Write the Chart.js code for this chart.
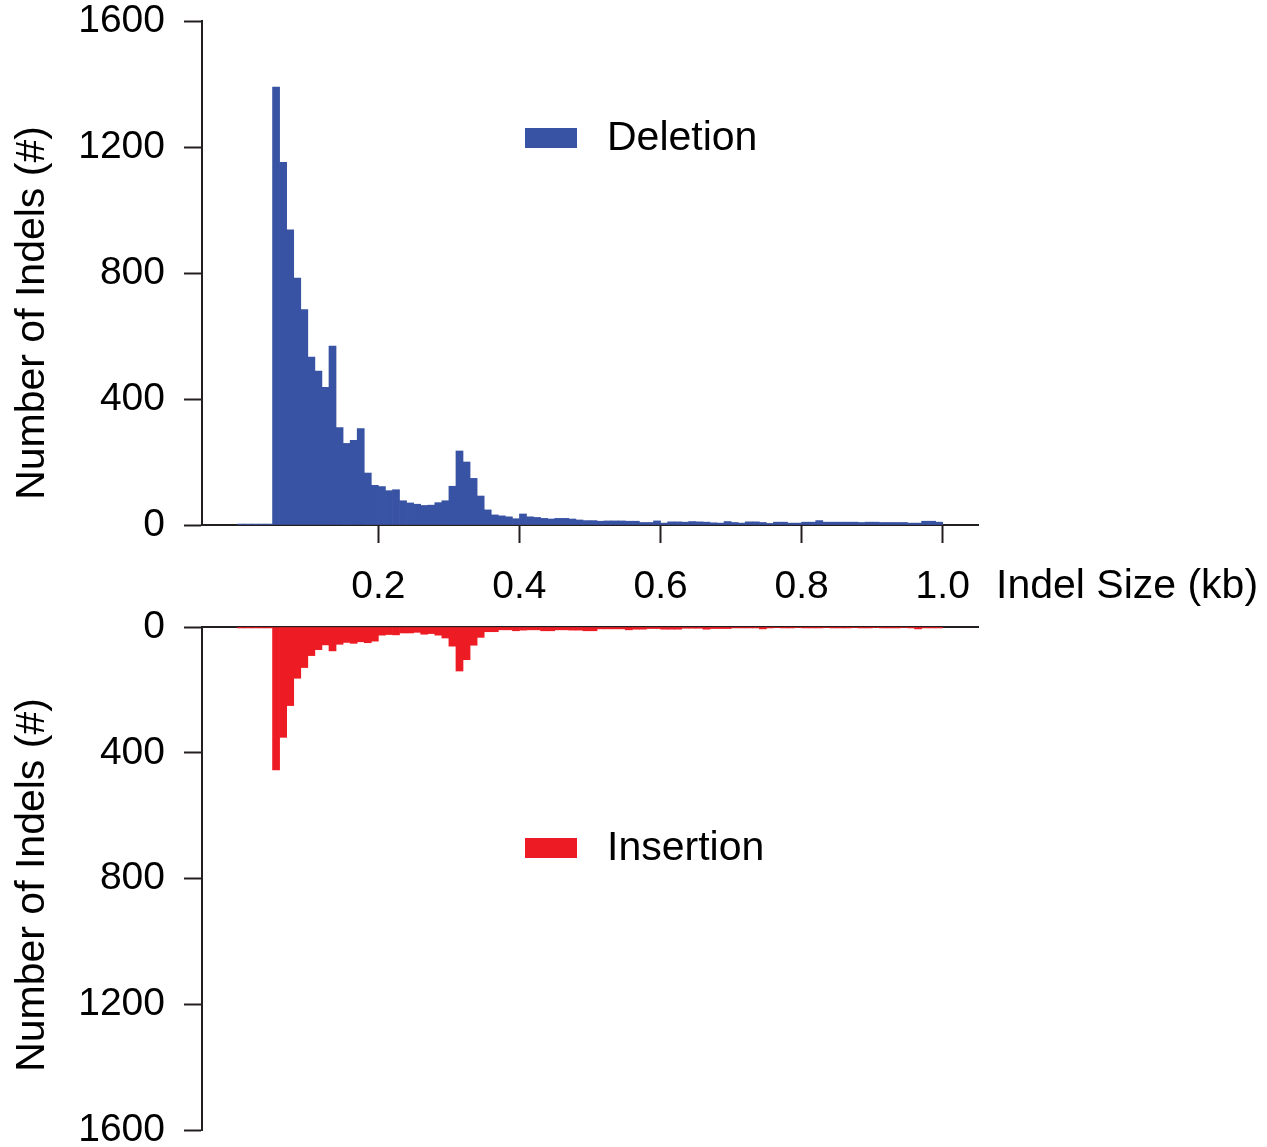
<!DOCTYPE html>
<html>
<head>
<meta charset="utf-8">
<script src="https://cdn.jsdelivr.net/npm/chart.js@4.4.1/dist/chart.umd.min.js"></script>
<style>
	html, body { margin: 0; padding: 0; background: #fff; overflow: hidden; }
	#wrap { position: relative; width: 1267px; height: 1147px; }
	#topBox { position: absolute; left: 0; top: 0; }
	#botBox { position: absolute; left: 0; top: 560px; }
</style>
</head>
<body>
<div id="wrap">
	<div id="topBox"><canvas id="delChart" width="1267" height="615"></canvas></div>
	<div id="botBox"><canvas id="insChart" width="1267" height="600"></canvas></div>
</div>
<script>
// 10 bp bins from 0 to 1.0 kb
var binWidth = 0.01;
var xTicks = [0.2, 0.4, 0.6, 0.8, 1.0];
var yTicks = [0, 400, 800, 1200, 1600];

var deletions = [
	3, 3, 3, 3, 3,
	1390, 1151, 937, 784, 684, 533, 489, 437, 568, 309,
	259, 269, 306, 165, 126, 122, 109, 112, 77, 70,
	66, 62, 63, 71, 77, 123, 235, 200, 148, 92,
	48, 32, 29, 26, 20, 35, 26, 24, 21, 19,
	21, 21, 19, 16, 14,
	14, 12, 13, 13, 13, 12, 12, 8, 8, 13,
	6, 10, 10, 9, 11, 10, 9, 7, 6, 11,
	8, 6, 10, 10, 8, 5, 9, 9, 6, 6,
	9, 9, 14, 9, 9, 9, 9, 9, 8, 9,
	9, 8, 8, 8, 8, 6, 6, 12, 12, 9
];

var insertions = [
	3, 3, 3, 3, 3,
	455, 351, 250, 163, 129, 91, 72, 57, 76, 55,
	49, 52, 47, 50, 45, 26, 24, 25, 19, 19,
	17, 23, 21, 26, 35, 61, 140, 104, 58, 33,
	15, 15, 9, 9, 12, 10, 9, 9, 12, 12,
	9, 9, 10, 10, 12, 12, 6, 6, 6, 6,
	9, 7, 7, 5, 5, 7, 7, 7, 4, 4,
	4, 7, 5, 5, 5, 3, 3, 3, 3, 6,
	3, 2, 3, 3, 2, 3, 3, 3, 2, 3,
	3, 3, 2, 3, 3, 2, 3, 3, 3, 2,
	3, 6, 3, 3, 3
];

var fontFamily = "'Liberation Sans', Arial, Helvetica, sans-serif";
var axisColor = '#231F20';
var blue = '#3953A4';
var red = '#ED1C24';

function toPoints(values) {
	return values.map(function(v, i) {
		return { x: (i + 0.5) * binWidth, y: v };
	});
}

// 축 제목, 범례 그리기
var annotate = {
	id: 'annotate',
	afterDraw: function(chart, args, opts) {
		var ctx = chart.ctx;
		var area = chart.chartArea;
		var ds = chart.data.datasets[0];
		ctx.save();
		ctx.font = '41px ' + fontFamily;
		ctx.fillStyle = '#000';
		ctx.textBaseline = 'middle';

		// y title
		ctx.save();
		ctx.translate(33, opts.titleY);
		ctx.rotate(-Math.PI / 2);
		ctx.textAlign = 'center';
		ctx.fillText(opts.yTitle, 0, 0);
		ctx.restore();

		// legend
		ctx.fillStyle = ds.backgroundColor;
		ctx.fillRect(opts.legendX, opts.legendY, 52, 20);
		ctx.fillStyle = '#000';
		ctx.textAlign = 'left';
		ctx.fillText(ds.label, opts.legendX + 82, opts.legendY + 11);

		// x title
		if (opts.xTitle) {
			ctx.fillText(opts.xTitle, area.right + 18, area.bottom + 62);
		}
		ctx.restore();
	}
};

function yScale(reverse) {
	return {
		type: 'linear',
		min: 0,
		max: 1600,
		reverse: reverse,
		afterFit: function(scale) {
			scale.width = 202;
			scale.paddingTop = 0;
			scale.paddingBottom = 0;
		},
		afterBuildTicks: function(scale) {
			scale.ticks = yTicks.map(function(v) { return { value: v }; });
		},
		ticks: {
			color: '#000',
			padding: 19,
			font: { family: fontFamily, size: 39, lineHeight: 1.0 },
			callback: function(v) { return String(v); }
		},
		grid: {
			drawOnChartArea: false,
			drawTicks: true,
			tickLength: 18,
			tickWidth: 2,
			color: axisColor
		},
		border: { display: true, color: axisColor, width: 2 }
	};
}

// 결실 (위)
new Chart(document.getElementById('delChart'), {
	type: 'bar',
	data: {
		datasets: [{
			label: 'Deletion',
			data: toPoints(deletions),
			backgroundColor: blue,
			borderWidth: 0,
			barPercentage: 1.0,
			categoryPercentage: 1.0
		}]
	},
	options: {
		responsive: false,
		animation: false,
		layout: { padding: { top: 21, right: 289, left: 0, bottom: 0 } },
		scales: {
			x: {
				type: 'linear',
				min: -0.05,
				max: 1.05,
				offset: false,
				afterFit: function(scale) {
					scale.height = 90;
					scale.paddingLeft = 0;
					scale.paddingRight = 0;
				},
				afterBuildTicks: function(scale) {
					scale.ticks = xTicks.map(function(v) { return { value: v }; });
				},
				ticks: {
					color: '#000',
					padding: 25,
					maxRotation: 0,
					font: { family: fontFamily, size: 39, lineHeight: 1.0 },
					callback: function(v) { return v.toFixed(1); }
				},
				grid: {
					offset: false,
					drawOnChartArea: false,
					drawTicks: true,
					tickLength: 18,
					tickWidth: 2,
					color: axisColor
				},
				border: { display: true, color: axisColor, width: 2 }
			},
			y: yScale(false)
		},
		plugins: {
			legend: { display: false },
			tooltip: { enabled: false },
			annotate: {
				yTitle: 'Number of Indels (#)',
				titleY: 313,
				legendX: 525,
				legendY: 128,
				xTitle: 'Indel Size (kb)'
			}
		}
	},
	plugins: [annotate]
});

// 삽입 (아래)
new Chart(document.getElementById('insChart'), {
	type: 'bar',
	data: {
		datasets: [{
			label: 'Insertion',
			data: toPoints(insertions),
			backgroundColor: red,
			borderWidth: 0,
			barPercentage: 1.0,
			categoryPercentage: 1.0
		}]
	},
	options: {
		responsive: false,
		animation: false,
		layout: { padding: { top: 67, right: 289, left: 0, bottom: 30 } },
		scales: {
			x: {
				type: 'linear',
				position: 'top',
				min: -0.05,
				max: 1.05,
				offset: false,
				afterFit: function(scale) {
					scale.height = 0;
					scale.paddingLeft = 0;
					scale.paddingRight = 0;
				},
				ticks: { display: false },
				grid: { display: false, drawTicks: false, offset: false },
				border: { display: true, color: axisColor, width: 2 }
			},
			y: yScale(true)
		},
		plugins: {
			legend: { display: false },
			tooltip: { enabled: false },
			annotate: {
				yTitle: 'Number of Indels (#)',
				titleY: 325,
				legendX: 525,
				legendY: 278
			}
		}
	},
	plugins: [annotate]
});
</script>
</body>
</html>
